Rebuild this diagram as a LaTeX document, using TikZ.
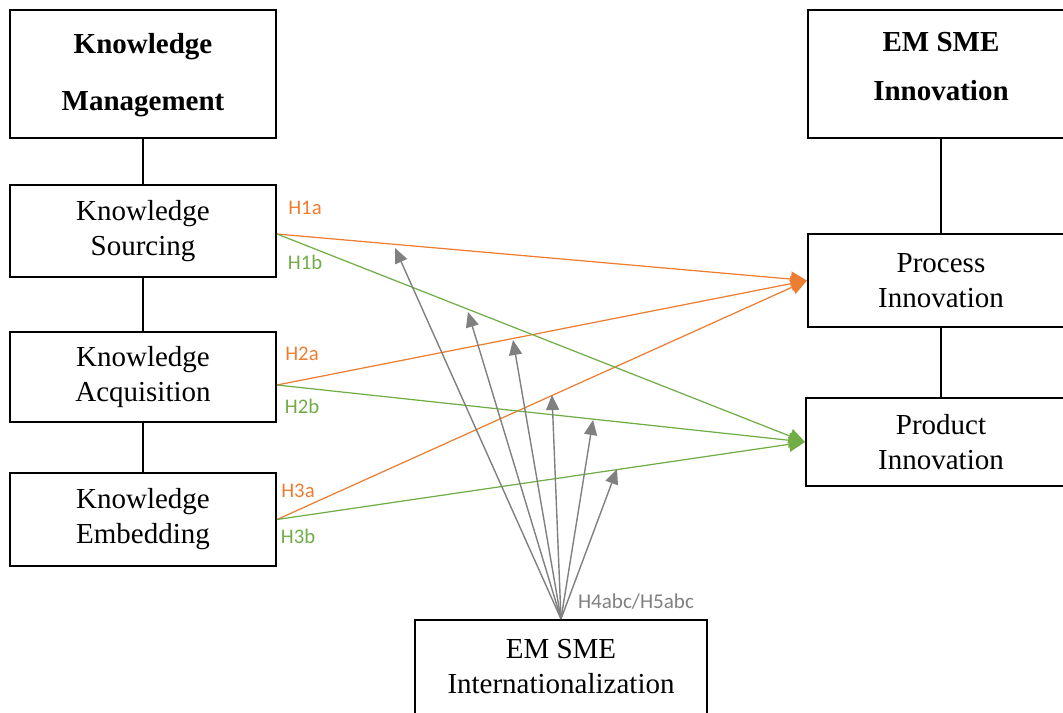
\documentclass[tikz,border=0pt]{standalone}
\usepackage{fontspec}
\setmainfont{Liberation Serif}
\newfontfamily\hypfont{Carlito}
\usepackage{tikz}
\usetikzlibrary{arrows.meta}
\usepackage{color}
\definecolor{hyporange}{RGB}{237,125,49}
\definecolor{hypgreen}{RGB}{112,173,71}
\definecolor{hypgray}{RGB}{128,128,128}
\tikzstyle{box} = [rectangle, draw, line width=1.2pt, align=center, inner sep=0pt, minimum width=5.32cm, font=\fontsize{16.5}{19.9}\selectfont]
\tikzstyle{hyp} = [font=\hypfont\fontsize{11.8}{14}\selectfont]
\tikzstyle{arrow} = [line width=0.7pt, -{Triangle[length=0.32cm, width=0.3cm]}]
\tikzstyle{moderator} = [hypgray, line width=0.8pt, -{Triangle[length=0.3cm, width=0.26cm]}]

\begin{document}
\begin{tikzpicture}[x=0.02cm, y=-0.02cm]
\useasboundingbox (0,0) rectangle (1063,713);

\node [box, minimum height=2.56cm] (km) at (143,74) {\textbf{Knowledge}\\[0.44cm]\textbf{Management}\\[-0.6cm]\mbox{}};
\node [box, minimum height=1.84cm] (ks) at (143,231) {Knowledge\\Sourcing};
\node [box, minimum height=1.8cm] (ka) at (143,377) {Knowledge\\Acquisition};
\node [box, minimum height=1.86cm] (ke) at (143,519.5) {Knowledge\\Embedding};

\node [box, minimum height=2.56cm] (ei) at (941,74) {\textbf{EM SME}\\[0.28cm]\textbf{Innovation}\\[-0.38cm]\mbox{}};
\node [box, minimum height=1.86cm] (pc) at (941,280.5) {Process\\Innovation};
\node [box, minimum height=1.76cm, minimum width=5.4cm] (pd) at (941,442) {Product\\Innovation};

\node [box, minimum height=1.88cm, minimum width=5.84cm] (int) at (561,667) {EM SME\\Internationalization};

\node [hyp, text=hyporange] (h1a) at (305,208) {H1a};
\node [hyp, text=hypgreen] (h1b) at (305,262) {H1b};
\node [hyp, text=hyporange] (h2a) at (302,354) {H2a};
\node [hyp, text=hypgreen] (h2b) at (302,406) {H2b};
\node [hyp, text=hyporange] (h3a) at (298,491) {H3a};
\node [hyp, text=hypgreen] (h3b) at (298,536) {H3b};
\node [hyp, text=hypgray, font=\hypfont\fontsize{12}{14}\selectfont] (h45) at (636,602) {H4abc/H5abc};

\coordinate (m1) at (395,248);
\coordinate (m2) at (468,312);
\coordinate (m3) at (513,340);
\coordinate (m4) at (552,395);
\coordinate (m5) at (593,420);
\coordinate (m6) at (617,469);

\draw [-, line width=0.6pt] (km) to (ks);
\draw [-, line width=0.6pt] (ks) to (ka);
\draw [-, line width=0.6pt] (ka) to (ke);
\draw [-, line width=0.6pt] (ei) to (pc);
\draw [-, line width=0.6pt] (pc) to (pd);

\draw [arrow, hyporange] ([yshift=-0.06cm]ks.east) to (pc.west);
\draw [arrow, hyporange] ([yshift=-0.16cm]ka.east) to (pc.west);
\draw [arrow, hyporange] (ke.east) to (pc.west);

\draw [arrow, hypgreen] ([yshift=-0.06cm]ks.east) to (pd.west);
\draw [arrow, hypgreen] ([yshift=-0.16cm]ka.east) to (pd.west);
\draw [arrow, hypgreen] (ke.east) to (pd.west);

\draw [moderator] (int.north) to (m1);
\draw [moderator] (int.north) to (m2);
\draw [moderator] (int.north) to (m3);
\draw [moderator] (int.north) to (m4);
\draw [moderator] (int.north) to (m5);
\draw [moderator] (int.north) to (m6);
\end{tikzpicture}
\end{document}
